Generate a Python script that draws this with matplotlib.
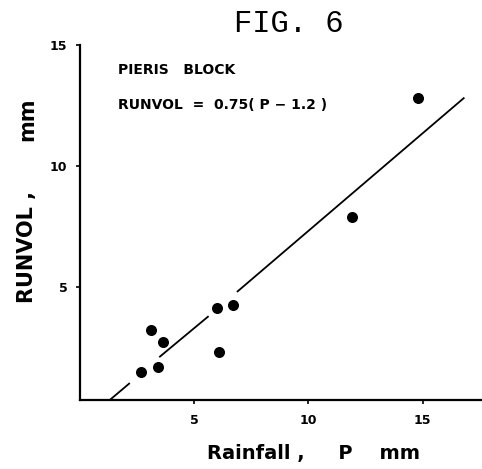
import matplotlib
matplotlib.use("Agg")
import matplotlib.pyplot as plt

# observed storms, Pieris block
rainfall = [2.65, 3.1, 3.65, 3.4, 6.0, 6.7, 6.1, 11.9, 14.8]
runvol = [1.45, 3.2, 2.7, 1.65, 4.1, 4.25, 2.3, 7.9, 12.8]

# fitted line RUNVOL = 0.75 (P - 1.2), as drawn (broken near the dots)
fit_segments_p = [[1.3, 2.15], [3.5, 5.6], [6.9, 16.8]]
fit_segments_r = [[0.3, 0.98], [2.1, 3.75], [4.8, 12.8]]

x_ticks = [5, 10, 15]
y_ticks = [5, 10, 15]

plt.rcParams['font.family'] = ['DejaVu Sans']
plt.rcParams['font.weight'] = 'bold'

fig = plt.figure(figsize=(4.82, 4.69), dpi=100)
ax = fig.add_axes([0.166, 0.147, 0.834, 0.757])

for xs, ys in zip(fit_segments_p, fit_segments_r):
    ax.plot(xs, ys, color='black', lw=1.3, zorder=2)
ax.scatter(rainfall, runvol, s=48, color='black', zorder=3)

ax.set_xlim(0, 17.6)
ax.set_ylim(0.3, 15)
ax.set_xticks(x_ticks)
ax.set_yticks(y_ticks)
ax.tick_params(axis='both', direction='out', length=3, width=1.2,
               labelsize=9)
ax.tick_params(axis='x', pad=7)
ax.tick_params(axis='y', pad=6)
for lab in ax.get_xticklabels() + ax.get_yticklabels():
    lab.set_fontweight('bold')

for side in ['top', 'right']:
    ax.spines[side].set_visible(False)
for side in ['left', 'bottom']:
    ax.spines[side].set_linewidth(1.6)

ax.text(1.65, 13.95, 'PIERIS   BLOCK', fontsize=10, fontweight='bold',
        va='center')
ax.text(1.65, 12.5, 'RUNVOL  =  0.75( P \u2212 1.2 )', fontsize=10,
        fontweight='bold', va='center')

ax.set_xlabel('Rainfall ,     P    mm', fontsize=14, fontweight='bold')
ax.xaxis.set_label_coords(0.58, -0.125)

# y label in two pieces, as set on the original figure
ax.text(-0.132, 0.43, 'RUNVOL ,', transform=ax.transAxes, rotation=90,
        fontsize=15, fontweight='bold', ha='center', va='center')
ax.text(-0.132, 0.79, 'mm', transform=ax.transAxes, rotation=90,
        fontsize=15, fontweight='bold', ha='center', va='center')

fig.text(0.6, 0.948, 'FIG. 6', family='Liberation Mono', fontsize=22,
         fontweight='normal', ha='center', va='center')

fig.savefig('out.png', dpi=100)
